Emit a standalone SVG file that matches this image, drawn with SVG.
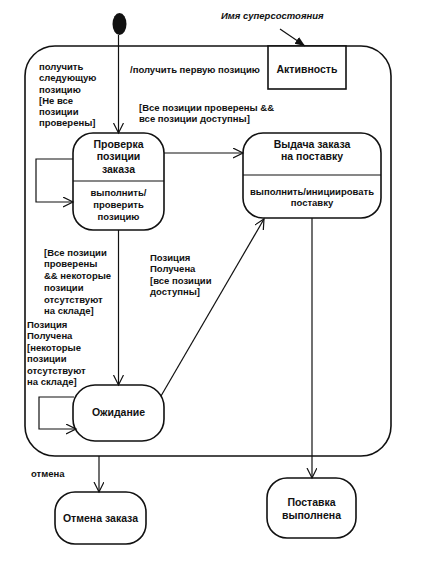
<svg xmlns="http://www.w3.org/2000/svg" width="424" height="565" viewBox="0 0 424 565">
<style>
.n{fill:#fff;stroke:#111;stroke-width:1.6}
.c{fill:none;stroke:#111;stroke-width:1.2}
.t{font-family:"Liberation Sans",Arial,sans-serif;font-size:9.5px;font-weight:bold;fill:#111}
.nt{font-family:"Liberation Sans",Arial,sans-serif;font-size:10.5px;font-weight:bold;fill:#111;text-anchor:middle}
.st{font-family:"Liberation Sans",Arial,sans-serif;font-size:9.5px;font-weight:bold;fill:#111;text-anchor:middle}
</style>
<defs>
<marker id="a" markerWidth="12" markerHeight="12" refX="10" refY="5" orient="auto" markerUnits="userSpaceOnUse">
<polyline points="0,0 10,5 0,10" fill="none" stroke="#111" stroke-width="1.2"/>
</marker>
<marker id="f" markerWidth="12" markerHeight="12" refX="10" refY="5" orient="auto" markerUnits="userSpaceOnUse">
<polygon points="0,1 10,5 0,9" fill="#111"/>
</marker>
</defs>
<rect width="424" height="565" fill="#fff"/>

<g id="superstate">
<rect class="n" x="25" y="46" width="366" height="410" rx="30" ry="30"/>
<rect class="n" x="268" y="46" width="78" height="43" fill="none"/>
<text class="nt" x="307" y="73">Активность</text>
</g>

<g id="superstate-name">
<text class="t" x="221" y="19" font-style="italic">Имя суперсостояния</text>
</g>

<g id="initial">
<ellipse cx="119.5" cy="24" rx="7" ry="11" fill="#111"/>
</g>

<g id="check">
<rect class="n" x="73" y="133" width="91" height="97" rx="20" ry="20"/>
<line class="c" x1="73" y1="181" x2="164" y2="181"/>
<text class="nt" x="118.5" y="148">Проверка</text>
<text class="nt" x="118.5" y="160">позиции</text>
<text class="nt" x="118.5" y="173">заказа</text>
<text class="st" x="118.5" y="196">выполнить/</text>
<text class="st" x="118.5" y="208">проверить</text>
<text class="st" x="118.5" y="220">позицию</text>
</g>

<g id="dispatch">
<rect class="n" x="243" y="133" width="138" height="85" rx="20" ry="20"/>
<line class="c" x1="243" y1="175" x2="381" y2="175"/>
<text class="nt" x="312" y="148">Выдача заказа</text>
<text class="nt" x="312" y="160">на поставку</text>
<text class="st" x="312" y="195">выполнить/инициировать</text>
<text class="st" x="312" y="206">поставку</text>
</g>

<g id="waiting">
<rect class="n" x="73" y="385" width="91" height="56" rx="22" ry="22"/>
<text class="nt" x="118.5" y="416">Ожидание</text>
</g>

<g id="cancel">
<rect class="n" x="55" y="492" width="91" height="52" rx="20" ry="20"/>
<text class="nt" x="100.5" y="522">Отмена заказа</text>
</g>

<g id="delivered">
<rect class="n" x="267" y="478" width="89" height="60" rx="20" ry="20"/>
<text class="nt" x="311.5" y="506">Поставка</text>
<text class="nt" x="311.5" y="519">выполнена</text>
</g>

<g id="connectors">
<line class="c" x1="280" y1="29" x2="305" y2="46" marker-end="url(#f)"/>
<line class="c" x1="118.5" y1="35" x2="118.5" y2="133" marker-end="url(#a)"/>
<polyline class="c" points="73,159 36,159 36,202 73,202" marker-end="url(#a)"/>
<line class="c" x1="164" y1="153" x2="243" y2="153" marker-end="url(#a)"/>
<line class="c" x1="118.5" y1="230" x2="118.5" y2="385" marker-end="url(#a)"/>
<polyline class="c" points="74,397 39,397 39,429 76,429" marker-end="url(#a)"/>
<line class="c" x1="161" y1="396" x2="264" y2="219" marker-end="url(#a)"/>
<line class="c" x1="312" y1="218" x2="312" y2="478" marker-end="url(#a)"/>
<line class="c" x1="99" y1="456" x2="99" y2="492" marker-end="url(#a)"/>
</g>

<g id="labels">
<text class="t" x="130" y="73">/получить первую позицию</text>
<text class="t" x="39" y="70">получить</text>
<text class="t" x="39" y="81">следующую</text>
<text class="t" x="39" y="93">позицию</text>
<text class="t" x="39" y="104">[Не все</text>
<text class="t" x="39" y="115">позиции</text>
<text class="t" x="39" y="126">проверены]</text>
<text class="t" x="139" y="111">[Все позиции проверены &amp;&amp;</text>
<text class="t" x="139" y="122">все позиции доступны]</text>
<text class="t" x="44" y="256">[Все позиции</text>
<text class="t" x="44" y="267">проверены</text>
<text class="t" x="44" y="279">&amp;&amp; некоторые</text>
<text class="t" x="44" y="291">позиции</text>
<text class="t" x="44" y="303">отсутствуют</text>
<text class="t" x="44" y="314">на складе]</text>
<text class="t" x="150" y="261">Позиция</text>
<text class="t" x="150" y="272">Получена</text>
<text class="t" x="150" y="284">[все позиции</text>
<text class="t" x="150" y="295">доступны]</text>
<text class="t" x="27" y="328">Позиция</text>
<text class="t" x="27" y="339">Получена</text>
<text class="t" x="27" y="351">[некоторые</text>
<text class="t" x="27" y="362">позиции</text>
<text class="t" x="27" y="374">отсутствуют</text>
<text class="t" x="27" y="385">на складе]</text>
<text class="t" x="31" y="477">отмена</text>
</g>
</svg>
